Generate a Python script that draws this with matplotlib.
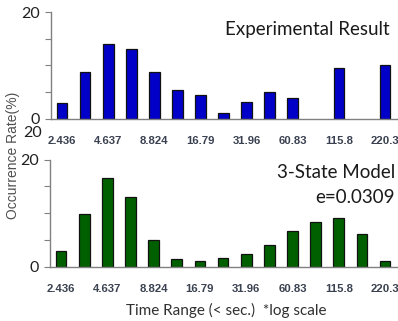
import numpy as np
import matplotlib
matplotlib.use('Agg')
import matplotlib.pyplot as plt

# time range bins (log scale), labels shown on every other bin
bins = ['2.436', '', '4.637', '', '8.824', '', '16.79', '', '31.96', '',
        '60.83', '', '115.8', '', '220.3']
experimental = [3.0, 8.7, 14.1, 13.1, 8.8, 5.5, 4.4, 1.1, 3.2, 5.0,
                3.9, 0.0, 9.6, 0.0, 10.0]
model = [3.0, 9.8, 16.6, 13.0, 5.0, 1.4, 1.1, 1.7, 2.4, 4.1,
         6.7, 8.3, 9.1, 6.1, 1.1]
yticks = [0, 5, 10, 15, 20]
ytick_labels = ['0', '', '', '', '20']

W, H = 398, 321
fig = plt.figure(figsize=(W / 100, H / 100), dpi=100)

text_font = ['Lato', 'DejaVu Sans']
tick_font = ['Liberation Sans', 'DejaVu Sans']


def setup(ax, values, color):
    x = np.arange(len(values))
    vals = np.array(values)
    keep = vals > 0  # empty bins draw nothing
    ax.bar(x[keep], vals[keep], width=0.46, color=color, edgecolor='#111111', linewidth=0.9)
    ax.set_xlim(-0.48, 14.56)
    ax.set_ylim(0, 20)
    for s in ['top', 'right']:
        ax.spines[s].set_visible(False)
    for s in ['left', 'bottom']:
        ax.spines[s].set_color('#808080')
        ax.spines[s].set_linewidth(1.0)
    ax.set_yticks(yticks)
    ax.set_yticklabels(ytick_labels, fontsize=11.5, color='#202020', family=text_font)
    ax.tick_params(axis='y', length=4, color='#808080', pad=4)
    ax.set_xticks(x)
    ax.set_xticklabels(bins, fontsize=8.2, color='#3a4150', family=tick_font, fontweight='bold')
    ax.tick_params(axis='x', length=0, pad=12)


ax1 = fig.add_axes([51 / W, 1 - 119 / H, 1 - 51 / W, 107 / H])
setup(ax1, experimental, '#0000c8')
ax1.text(390 / W, 1 - 35 / H, 'Experimental Result', transform=fig.transFigure,
         ha='right', va='baseline', fontsize=13.5, color='#1a1a1a', family=text_font)

ax2 = fig.add_axes([50 / W, 1 - 267 / H, 1 - 50 / W, 107.5 / H])
setup(ax2, model, '#006000')
fig.text(395 / W, 1 - 178 / H, '3-State Model', ha='right', va='baseline',
         fontsize=13.5, color='#1a1a1a', family=text_font)
fig.text(395 / W, 1 - 203 / H, 'e=0.0309', ha='right', va='baseline',
         fontsize=13.5, color='#1a1a1a', family=text_font)

# stray label between the panels
fig.text(42 / W, 1 - 133 / H, '20', ha='right', va='center', fontsize=11.5,
         color='#202020', family=text_font)

fig.text(13 / W, 1 - 155 / H, 'Occurrence Rate(%)', rotation=90, ha='center', va='center',
         fontsize=10, color='#505050', family=tick_font)
fig.text(226 / W, 1 - 310 / H, 'Time Range (< sec.)  *log scale', ha='center', va='center',
         fontsize=11, color='#303030', family=text_font)

fig.savefig('out.png', dpi=100)
